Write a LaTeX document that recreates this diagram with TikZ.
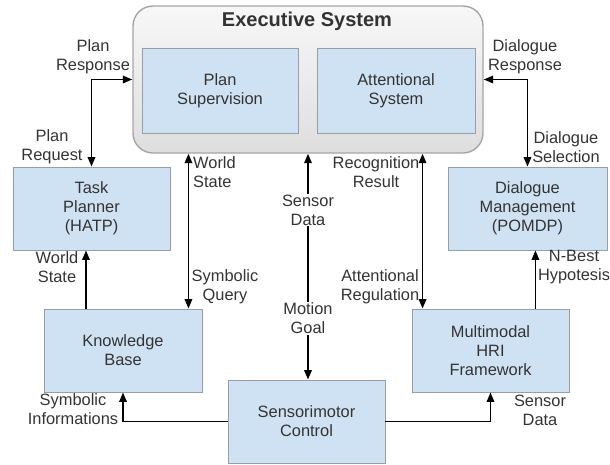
\documentclass[tikz,border=0pt]{standalone}
\usepackage{fontspec}
\setmainfont{Liberation Sans}
\usetikzlibrary{arrows.meta,calc}
\definecolor{boxfill}{RGB}{207,226,243}
\definecolor{boxline}{RGB}{150,158,166}
\definecolor{txt}{RGB}{51,51,51}
\begin{document}
\begin{tikzpicture}[x=1pt,y=-1pt,
  every node/.style={text=txt,font=\fontsize{16.4}{19}\selectfont},
  box/.style={draw=boxline,line width=0.9pt,fill=boxfill,inner sep=0pt,align=center,
    minimum width=157pt,minimum height=83pt},
  lbl/.style={align=center,inner sep=1pt},
  conn/.style={line width=1.8pt,-{Triangle[length=9.5pt,width=7.5pt]}},
  both/.style={line width=1.8pt,{Triangle[length=9.5pt,width=7.5pt]}-{Triangle[length=9.5pt,width=7.5pt]}}]
\useasboundingbox (0,0) rectangle (610,464);
% executive system
\node[draw=black!35,line width=1.4pt,rounded corners=20pt,top color=white!97!black,bottom color=white!87!black,
  minimum width=350pt,minimum height=147pt,inner sep=0pt] (exec) at (308,79.5) {};
\node[font=\bfseries\fontsize{20}{24}\selectfont] (title) at (307,21) {Executive System};
\node[box,minimum width=156pt,minimum height=85pt] (ps) at (220,90.5) {Plan\\Supervision};
\node[box,minimum width=158pt,minimum height=85pt] (as) at (396,90.5) {Attentional\\System};
% other boxes
\node[box] (tp) at (91.5,208.5) {Task\\Planner\\(HATP)};
\node[box,minimum width=159pt] (dm) at (527.5,208.5) {Dialogue\\Management\\(POMDP)};
\node[box,minimum width=158pt] (kb) at (123,350.5) {Knowledge\\Base};
\node[box] (mm) at (490.5,350.5) {Multimodal\\HRI\\Framework};
\node[box] (sm) at (306.5,421.5) {Sensorimotor\\Control};
% connectors
\draw[both] (exec.west) -| (tp.north);
\draw[both] (exec.east) -| (dm.north);
\draw[both] ([xshift=-14pt]kb.north east) -- ([xshift=-14pt]kb.north east |- exec.south);
\draw[conn] ([xshift=-37pt]kb.north) -- ([xshift=-37pt]kb.north |- tp.south);
\draw[both] (exec.south) -- node[lbl,fill=white,pos=0.25] (sd) {Sensor\\Data}
  node[lbl,fill=white,pos=0.73] (mg) {Motion\\Goal} (exec.south |- sm.north);
\draw[both] ([xshift=11pt]mm.north west |- exec.south) -- ([xshift=11pt]mm.north west);
\draw[conn] ([xshift=-34pt]mm.north east) -- ([xshift=-34pt]mm.north east |- dm.south);
\draw[conn] (sm.west) -| (kb.south);
\draw[conn] (sm.east) -| (mm.south);
% labels
\node[lbl] (l1) at (93,57) {Plan\\Response};
\node[lbl] (l2) at (52,147) {Plan\\Request};
\node[lbl,align=left,anchor=west] (l3) at (192,172) {World\\State};
\node[lbl] (l4) at (376,172) {Recognition\\Result};
\node[lbl] (l5) at (525,57) {Dialogue\\Response};
\node[lbl] (l6) at (566,147) {Dialogue\\Selection};
\node[lbl] (l7) at (57,267) {World\\State};
\node[lbl] (l8) at (225,287) {Symbolic\\Query};
\node[lbl] (l9) at (380,287) {Attentional\\Regulation};
\node[lbl] (l10) at (574,267) {N-Best\\Hypotesis};
\node[lbl] (l11) at (73,409) {Symbolic\\Informations};
\node[lbl] (l12) at (540,410) {Sensor\\Data};
\end{tikzpicture}
\end{document}
